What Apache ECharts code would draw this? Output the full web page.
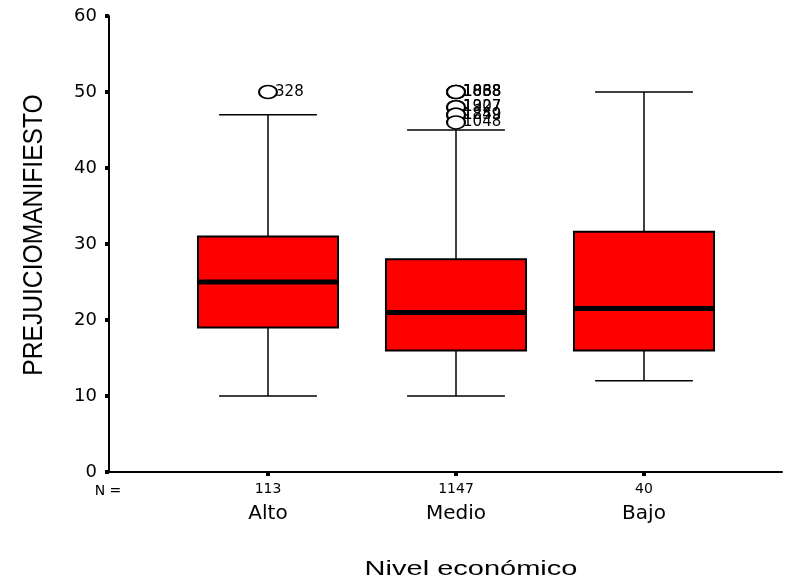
<!DOCTYPE html>
<html><head><meta charset="utf-8">
<script src="https://cdn.jsdelivr.net/npm/echarts@6/dist/echarts.min.js"></script>
<style>html,body{margin:0;padding:0;background:#fff}#c{width:798px;height:581px}</style>
</head><body><div id="c"></div>
<script>
const categories = ['Alto', 'Medio', 'Bajo'];
const nCounts = [113, 1147, 40];
const whiskerLow = [10, 10, 12];
const q1 = [19, 16, 16];
const median = [25, 21, 21.5];
const q3 = [31, 28, 31.6];
const whiskerHigh = [47, 45, 50];
const outlierCats = ['Alto', 'Medio', 'Medio', 'Medio', 'Medio', 'Medio', 'Medio', 'Medio', 'Medio'];
const outlierValues = [50, 50, 50, 50, 48, 48, 47, 47, 46];
const outlierIds = ['328', '1888', '1868', '1038', '1907', '1327', '1849', '1259', '1048'];
const yTicks = [0, 10, 20, 30, 40, 50, 60];

const boxData = categories.map((c, i) => [i, whiskerLow[i], q1[i], median[i], q3[i], whiskerHigh[i]]);
const outlierData = outlierValues.map((v, i) => ({ name: outlierIds[i], value: [outlierCats[i], v] }));

function renderBox(params, api) {
  const i = api.value(0);
  const xc = api.coord([i, 0])[0];
  const band = api.size([1, 0])[0];
  const bw = band * 0.745, cw = band * 0.52;
  const yLo = api.coord([i, api.value(1)])[1];
  const yQ1 = api.coord([i, api.value(2)])[1];
  const yMed = api.coord([i, api.value(3)])[1];
  const yQ3 = api.coord([i, api.value(4)])[1];
  const yHi = api.coord([i, api.value(5)])[1];
  const ls = { stroke: '#000', lineWidth: 1.5 };
  return {
    type: 'group',
    children: [
      { type: 'line', shape: { x1: xc, y1: yLo, x2: xc, y2: yQ1 }, style: ls },
      { type: 'line', shape: { x1: xc, y1: yQ3, x2: xc, y2: yHi }, style: ls },
      { type: 'line', shape: { x1: xc - cw / 2, y1: yLo, x2: xc + cw / 2, y2: yLo }, style: ls },
      { type: 'line', shape: { x1: xc - cw / 2, y1: yHi, x2: xc + cw / 2, y2: yHi }, style: ls },
      { type: 'rect', shape: { x: xc - bw / 2, y: yQ3, width: bw, height: yQ1 - yQ3 }, style: { fill: '#ff0000', stroke: '#000', lineWidth: 2 } },
      { type: 'line', shape: { x1: xc - bw / 2 + 1, y1: yMed, x2: xc + bw / 2 - 1, y2: yMed }, style: { stroke: '#000', lineWidth: 5 } }
    ]
  };
}

const chart = echarts.init(document.getElementById('c'), null, { renderer: 'canvas' });
chart.setOption({
  animation: false,
  backgroundColor: '#fff',
  textStyle: { fontFamily: 'DejaVu Sans', color: '#000' },
  grid: [
    { left: 109, right: 16, top: 16, bottom: 109 },
    { left: 174, right: 60, top: 16, bottom: 109 }
  ],
  xAxis: [
    { gridIndex: 0, type: 'value', min: 0, max: 1, axisLine: { show: true, lineStyle: { color: '#000', width: 2 } }, axisTick: { show: false }, axisLabel: { show: false }, splitLine: { show: false } },
    { gridIndex: 1, type: 'category', data: categories, boundaryGap: true,
      axisLine: { show: false },
      axisTick: { show: true, alignWithLabel: true, length: 4, lineStyle: { color: '#000', width: 4 } },
      axisLabel: { margin: 6, color: '#000', formatter: (v, i) => '{n|' + nCounts[i] + '}\n{c|' + v + '}',
        rich: { n: { fontSize: 14, lineHeight: 22, fontFamily: 'DejaVu Sans', color: '#000' }, c: { fontSize: 20, lineHeight: 28, fontFamily: 'DejaVu Sans', color: '#000' } } },
      splitLine: { show: false } }
  ],
  yAxis: [
    { gridIndex: 0, type: 'value', min: yTicks[0], max: yTicks[yTicks.length - 1], interval: 10,
      axisLine: { show: true, lineStyle: { color: '#000', width: 2 } },
      axisTick: { show: true, length: 4, lineStyle: { color: '#000', width: 4 } },
      axisLabel: { margin: 12, fontSize: 18, color: '#000', fontFamily: 'DejaVu Sans' },
      splitLine: { show: false } },
    { gridIndex: 1, type: 'value', min: yTicks[0], max: yTicks[yTicks.length - 1], show: false }
  ],
  series: [
    { type: 'custom', xAxisIndex: 1, yAxisIndex: 1, renderItem: renderBox, data: boxData,
      encode: { x: 0, y: [1, 2, 3, 4, 5] }, silent: true },
    { type: 'scatter', xAxisIndex: 1, yAxisIndex: 1, data: outlierData, symbol: 'circle', symbolSize: [18, 13],
      itemStyle: { color: '#fff', borderColor: '#000', borderWidth: 1.8, opacity: 1 },
      label: { show: true, position: 'right', distance: -3, formatter: p => p.name, fontSize: 15, fontFamily: 'DejaVu Sans', color: '#000' },
      emphasis: { disabled: true }, silent: true, z: 3 }
  ],
  graphic: [
    { type: 'text', x: 34, y: 235, rotation: Math.PI / 2, scaleX: 0.88, style: { text: 'PREJUICIOMANIFIESTO', font: '28px "Liberation Sans"', align: 'center', verticalAlign: 'middle', fill: '#000' } },
    { type: 'text', x: 471, y: 569, scaleX: 1.45, style: { text: 'Nivel económico', font: '20px "Liberation Sans"', align: 'center', verticalAlign: 'middle', fill: '#000' } },
    { type: 'text', x: 108, y: 491, style: { text: 'N =', font: '14px "DejaVu Sans"', align: 'center', verticalAlign: 'middle', fill: '#000' } }
  ]
});
</script>
</body></html>
